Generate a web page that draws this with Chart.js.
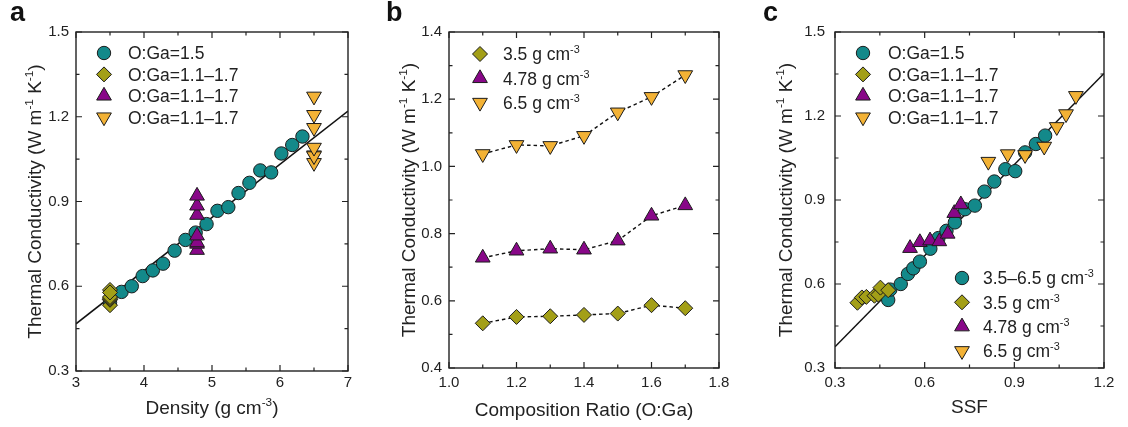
<!DOCTYPE html>
<html>
<head>
<meta charset="utf-8">
<script src="https://cdn.jsdelivr.net/npm/chart.js@4.4.1/dist/chart.umd.min.js"></script>
<style>
  html, body { margin: 0; padding: 0; background: #fff; }
  #wrap { position: relative; width: 1128px; height: 427px; }
  canvas { position: absolute; top: 0; }
</style>
</head>
<body>
<div id="wrap">
  <canvas id="chartA" width="370" height="427" style="left:0"></canvas>
  <canvas id="chartB" width="380" height="427" style="left:370px"></canvas>
  <canvas id="chartC" width="378" height="427" style="left:750px"></canvas>
</div>
<script>
/* globals Chart */

// ---- panel a: density vs thermal conductivity ----
const densityCircle = [3.5, 3.67, 3.82, 3.98, 4.13, 4.28, 4.45, 4.61, 4.76, 4.92, 5.08, 5.24, 5.39, 5.55, 5.71, 5.87, 6.02, 6.18, 6.33];
const kCircle = [0.543, 0.58, 0.6, 0.636, 0.656, 0.68, 0.726, 0.764, 0.79, 0.82, 0.867, 0.88, 0.93, 0.966, 1.01, 1.003, 1.07, 1.1, 1.13];
const densityGroups = [3.5, 4.78, 6.5];
const kTriA = [0.728, 0.75, 0.755, 0.779, 0.852, 0.885, 0.92];
const fitDensity = [3, 7];
const fitKA = [0.467, 1.22];

// ---- panel b: composition ratio ----
const ratio = [1.1, 1.2, 1.3, 1.4, 1.5, 1.6, 1.7];
const k35 = [0.533, 0.552, 0.554, 0.558, 0.562, 0.587, 0.578];
const k478 = [0.728, 0.749, 0.755, 0.752, 0.779, 0.853, 0.884];
const k65 = [1.037, 1.064, 1.061, 1.091, 1.161, 1.207, 1.272];

// ---- panel c: SSF ----
const ssfCircle = [0.478, 0.485, 0.52, 0.544, 0.562, 0.584, 0.619, 0.646, 0.673, 0.701, 0.735, 0.768, 0.8, 0.833, 0.87, 0.903, 0.936, 0.972, 1.003];
const ssf35 = [0.375, 0.39, 0.405, 0.432, 0.445, 0.452, 0.478];
const ssf478 = [0.551, 0.584, 0.618, 0.649, 0.677, 0.699, 0.721];
const ssf65 = [0.813, 0.878, 0.936, 1.0, 1.042, 1.073, 1.106];
const fitSSF = [0.3, 1.2];
const fitKC = [0.376, 1.352];

// axis ticks
const yTicksAC = [0.3, 0.6, 0.9, 1.2, 1.5];
const xTicksA = [3, 4, 5, 6, 7];
const xTicksB = [1.0, 1.2, 1.4, 1.6, 1.8];
const yTicksB = [0.4, 0.6, 0.8, 1.0, 1.2, 1.4];
const xTicksC = [0.3, 0.6, 0.9, 1.2];

const labelsOGa = ["O:Ga=1.5", "O:Ga=1.1\u20131.7", "O:Ga=1.1\u20131.7", "O:Ga=1.1\u20131.7"];
const labelsDensity = ["3.5\u20136.5 g cm^{-3}", "3.5 g cm^{-3}", "4.78 g cm^{-3}", "6.5 g cm^{-3}"];

const FONT = "'Liberation Sans', Arial, sans-serif";
const INK = "#222";
const EDGE = "#1c1c1c";

const STYLE = {
  circle: { pointStyle: "circle", radius: 6.7, rotation: 0, color: "#13898a" },
  diamond: { pointStyle: "rectRot", radius: 7.5, rotation: 0, color: "#a39f17" },
  up: { pointStyle: "triangle", radius: 8.5, rotation: 0, color: "#880788" },
  down: { pointStyle: "triangle", radius: 8.5, rotation: 180, color: "#f3b235" },
};

const pts = (xs, ys) => ys.map((y, i) => ({ x: Array.isArray(xs) ? xs[i] : xs, y }));

function markerSet(kind, data, order, extra) {
  const s = STYLE[kind];
  return Object.assign({
    data,
    order,
    showLine: false,
    pointStyle: s.pointStyle,
    pointRadius: s.radius,
    rotation: s.rotation,
    backgroundColor: s.color,
    borderColor: EDGE,
    borderWidth: 1,
  }, extra || {});
}

function lineSet(data, order, dash) {
  return {
    data,
    order,
    showLine: true,
    pointRadius: 0,
    borderColor: "#111",
    borderWidth: dash ? 1.4 : 1.5,
    borderDash: dash || [],
    backgroundColor: "transparent",
  };
}

function drawMarker(ctx, kind, x, y) {
  const s = STYLE[kind];
  const r = s.radius;
  ctx.save();
  ctx.fillStyle = s.color;
  ctx.strokeStyle = EDGE;
  ctx.lineWidth = 1;
  ctx.beginPath();
  if (kind === "circle") {
    ctx.arc(x, y, r, 0, Math.PI * 2);
  } else if (kind === "diamond") {
    ctx.moveTo(x, y - r); ctx.lineTo(x + r, y); ctx.lineTo(x, y + r); ctx.lineTo(x - r, y);
  } else {
    const sgn = kind === "up" ? 1 : -1;
    for (let k = 0; k < 3; k++) {
      const a = (k * 2 * Math.PI) / 3;
      const px = x + Math.sin(a) * r;
      const py = y - sgn * Math.cos(a) * r;
      if (k === 0) ctx.moveTo(px, py); else ctx.lineTo(px, py);
    }
  }
  ctx.closePath();
  ctx.fill();
  ctx.stroke();
  ctx.restore();
}

// text with ^{...} superscripts
function drawRich(ctx, str, x, y, size, align, angle) {
  const parts = str.split(/\^\{([^}]*)\}/).map((t, i) => ({ t, sup: i % 2 === 1 })).filter(p => p.t);
  const sup = size * 0.62;
  ctx.save();
  ctx.translate(x, y);
  if (angle) ctx.rotate(angle);
  ctx.fillStyle = INK;
  ctx.textAlign = "left";
  ctx.textBaseline = "alphabetic";
  let total = 0;
  parts.forEach(p => { ctx.font = (p.sup ? sup : size) + "px " + FONT; p.w = ctx.measureText(p.t).width; total += p.w; });
  let cx = align === "center" ? -total / 2 : 0;
  parts.forEach(p => {
    ctx.font = (p.sup ? sup : size) + "px " + FONT;
    ctx.fillText(p.t, cx, p.sup ? -size * 0.4 : 0);
    cx += p.w;
  });
  ctx.restore();
}

const panelPlugin = {
  id: "panel",
  afterDraw(chart) {
    const cfg = chart.options.plugins.panel;
    const ctx = chart.ctx;
    const { left, right, top, bottom } = chart.chartArea;
    const xs = chart.scales.x;
    const ys = chart.scales.y;

    // frame with inward ticks on all four sides
    ctx.save();
    ctx.strokeStyle = "#222";
    ctx.lineWidth = 1.4;
    ctx.strokeRect(left, top, right - left, bottom - top);
    ctx.lineWidth = 1.2;
    const major = 6, minor = 3.5;
    const xt = cfg.xTicks, yt = cfg.yTicks;
    const xList = [], yList = [];
    xt.forEach((v, i) => { xList.push([v, major]); if (i < xt.length - 1) xList.push([(v + xt[i + 1]) / 2, minor]); });
    yt.forEach((v, i) => { yList.push([v, major]); if (i < yt.length - 1) yList.push([(v + yt[i + 1]) / 2, minor]); });
    ctx.beginPath();
    xList.forEach(([v, len]) => {
      const px = xs.getPixelForValue(v);
      ctx.moveTo(px, bottom); ctx.lineTo(px, bottom - len);
      ctx.moveTo(px, top); ctx.lineTo(px, top + len);
    });
    yList.forEach(([v, len]) => {
      const py = ys.getPixelForValue(v);
      ctx.moveTo(left, py); ctx.lineTo(left + len, py);
      ctx.moveTo(right, py); ctx.lineTo(right - len, py);
    });
    ctx.stroke();
    ctx.restore();

    // axis titles
    drawRich(ctx, cfg.xTitle, (left + right) / 2, cfg.xTitleY, 19, "center", 0);
    drawRich(ctx, "Thermal Conductivity (W m^{-1} K^{-1})", cfg.yTitleX, (top + bottom) / 2, 19, "center", -Math.PI / 2);

    // panel letter
    ctx.save();
    ctx.fillStyle = "#111";
    ctx.font = "bold 27px " + FONT;
    ctx.textBaseline = "alphabetic";
    ctx.fillText(cfg.letter, cfg.letterX, 21);
    ctx.restore();

    // legends
    cfg.legends.forEach(lg => {
      lg.kinds.forEach((kind, i) => {
        const y = lg.y0 + i * lg.gap;
        drawMarker(ctx, kind, lg.mx, y);
        drawRich(ctx, lg.labels[i], lg.tx, y + 6.3, 17.5, "left", 0);
      });
    });
  },
};

function makePanel(id, cfg) {
  const canvas = document.getElementById(id);
  const W = canvas.width, H = canvas.height;
  const a = cfg.area;
  const tickFont = { family: FONT, size: 15 };
  return new Chart(canvas.getContext("2d"), {
    type: "scatter",
    data: { datasets: cfg.datasets },
    options: {
      responsive: false,
      animation: false,
      events: [],
      layout: { padding: { left: 0, top: a.top, right: W - a.right, bottom: 0 } },
      plugins: {
        legend: { display: false },
        tooltip: { enabled: false },
        panel: cfg,
      },
      scales: {
        x: {
          type: "linear",
          min: cfg.xTicks[0],
          max: cfg.xTicks[cfg.xTicks.length - 1],
          afterBuildTicks: s => { s.ticks = cfg.xTicks.map(v => ({ value: v })); },
          ticks: { callback: cfg.xFmt, font: tickFont, color: INK, padding: cfg.xPad, maxRotation: 0, autoSkip: false },
          grid: { display: false, drawTicks: false },
          border: { display: false },
          afterFit: s => { s.height = H - a.bottom; },
        },
        y: {
          type: "linear",
          min: cfg.yTicks[0],
          max: cfg.yTicks[cfg.yTicks.length - 1],
          afterBuildTicks: s => { s.ticks = cfg.yTicks.map(v => ({ value: v })); },
          ticks: { callback: v => v.toFixed(1), font: tickFont, color: INK, padding: cfg.yPad, autoSkip: false },
          grid: { display: false, drawTicks: false },
          border: { display: false },
          afterFit: s => { s.width = a.left; },
        },
      },
    },
    plugins: [panelPlugin],
  });
}

const kindsAll = ["circle", "diamond", "up", "down"];

makePanel("chartA", {
  area: { left: 76, right: 348, top: 32, bottom: 371 },
  xTicks: xTicksA, yTicks: yTicksAC,
  xFmt: v => String(v), xPad: 3, yPad: 7,
  xTitle: "Density (g cm^{-3})", xTitleY: 414, yTitleX: 40.5,
  letter: "a", letterX: 10,
  legends: [{ kinds: kindsAll, labels: labelsOGa, mx: 104, tx: 128, y0: 53, gap: 21.4 }],
  datasets: [
    lineSet(pts(fitDensity, fitKA), 5),
    markerSet("circle", pts(densityCircle, kCircle), 4),
    markerSet("diamond", pts(densityGroups[0], k35), 3),
    markerSet("up", pts(densityGroups[1], kTriA), 2),
    markerSet("down", pts(densityGroups[2], k65), 1),
  ],
});

makePanel("chartB", {
  area: { left: 79, right: 349, top: 32, bottom: 368 },
  xTicks: xTicksB, yTicks: yTicksB,
  xFmt: v => v.toFixed(1), xPad: 6, yPad: 7,
  xTitle: "Composition Ratio (O:Ga)", xTitleY: 416, yTitleX: 45,
  letter: "b", letterX: 16,
  legends: [{ kinds: ["diamond", "up", "down"], labels: labelsDensity.slice(1), mx: 110, tx: 133, y0: 54, gap: 24.3 }],
  datasets: [
    lineSet(pts(ratio, k35), 6, [3.5, 3]),
    lineSet(pts(ratio, k478), 6, [3.5, 3]),
    lineSet(pts(ratio, k65), 6, [3.5, 3]),
    markerSet("diamond", pts(ratio, k35), 3),
    markerSet("up", pts(ratio, k478), 2),
    markerSet("down", pts(ratio, k65), 1),
  ],
});

makePanel("chartC", {
  area: { left: 85, right: 354, top: 32, bottom: 368 },
  xTicks: xTicksC, yTicks: yTicksAC,
  xFmt: v => v.toFixed(1), xPad: 6, yPad: 10,
  xTitle: "SSF", xTitleY: 413, yTitleX: 42,
  letter: "c", letterX: 13,
  legends: [
    { kinds: kindsAll, labels: labelsOGa, mx: 113, tx: 138, y0: 53, gap: 21.4 },
    { kinds: kindsAll, labels: labelsDensity, mx: 212, tx: 233, y0: 278, gap: 24.3 },
  ],
  datasets: [
    lineSet(pts(fitSSF, fitKC), 5),
    markerSet("circle", pts(ssfCircle, kCircle), 4),
    markerSet("diamond", pts(ssf35, k35), 3),
    markerSet("up", pts(ssf478, k478), 2),
    markerSet("down", pts(ssf65, k65), 1),
  ],
});
</script>
</body>
</html>
